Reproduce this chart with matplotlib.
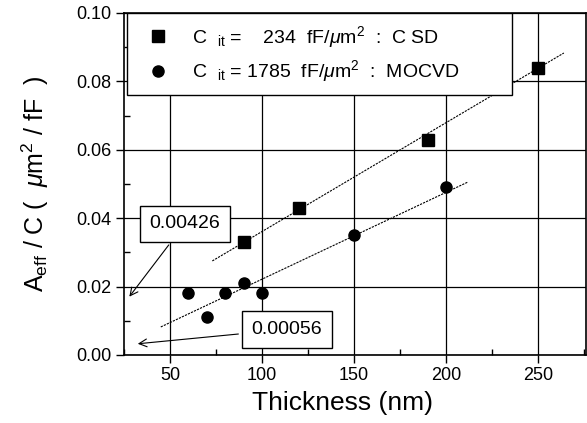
import matplotlib
matplotlib.use('Agg')
import matplotlib.pyplot as plt
from matplotlib.ticker import MultipleLocator, FormatStrFormatter
from matplotlib.patches import Rectangle

plt.rcParams['font.family'] = ['Liberation Sans', 'DejaVu Sans']
plt.rcParams['mathtext.fontset'] = 'custom'
plt.rcParams['mathtext.rm'] = 'Liberation Sans'
plt.rcParams['mathtext.it'] = 'Liberation Sans:italic'

# 数据
csd_x = [90, 120, 190, 250]
csd_y = [0.033, 0.043, 0.063, 0.084]
mocvd_x = [60, 70, 80, 90, 100, 150, 200]
mocvd_y = [0.018, 0.011, 0.018, 0.021, 0.018, 0.035, 0.049]

# 拟合线端点
csd_fit_x = [73, 264]
csd_fit_y = [0.0275, 0.0883]
mocvd_fit_x = [45, 212]
mocvd_fit_y = [0.0082, 0.0506]

csd_label = r'C  $_{\rm it}$ =    234  fF/$\mathit{\mu}$m$^2$  :  C SD'
mocvd_label = r'C  $_{\rm it}$ = 1785  fF/$\mathit{\mu}$m$^2$  :  MOCVD'

fig = plt.figure(figsize=(5.87, 4.23), dpi=100)
ax = fig.add_axes([0.2112, 0.1608, 0.7870, 0.8085])

ax.plot(csd_fit_x, csd_fit_y, color='black', lw=0.8, ls=(0, (2, 1)))
ax.plot(mocvd_fit_x, mocvd_fit_y, color='black', lw=0.8, ls=(0, (2, 1)))
ax.plot(csd_x, csd_y, 's', color='black', ms=8.5, label=csd_label, zorder=4)
ax.plot(mocvd_x, mocvd_y, 'o', color='black', ms=8, label=mocvd_label, zorder=4)

ax.set_xlim(25, 276)
ax.set_ylim(0, 0.10)
ax.xaxis.set_major_locator(MultipleLocator(50))
ax.xaxis.set_minor_locator(MultipleLocator(25))
ax.yaxis.set_major_locator(MultipleLocator(0.02))
ax.yaxis.set_minor_locator(MultipleLocator(0.01))
ax.yaxis.set_major_formatter(FormatStrFormatter('%.2f'))
ax.grid(True, which='major', color='black', lw=0.9)
ax.set_axisbelow(True)
ax.tick_params(which='major', direction='out', length=6, width=1, labelsize=13, pad=3)
ax.tick_params(which='minor', direction='in', length=4, width=1)
for sp in ax.spines.values():
    sp.set_linewidth(1.2)

ax.set_xlabel('Thickness (nm)', fontsize=19)
ax.xaxis.set_label_coords(0.474, -0.105)
ax.set_ylabel(r'A$_{\rm eff}$ / C (  $\mathit{\mu}$m$^2$ / fF  )', fontsize=18, labelpad=18)

# 图例框
ax.add_patch(Rectangle((0.0065, 0.760), 0.834, 0.24, transform=ax.transAxes,
                       fc='white', ec='black', lw=1.0, zorder=3))
leg = ax.legend(loc='upper left', bbox_to_anchor=(0.028, 1.0), borderaxespad=0,
                fontsize=14, frameon=False, borderpad=0.55, labelspacing=0.45,
                handletextpad=1.2, handlelength=1.1)
leg.set_zorder(5)

box = dict(boxstyle='square,pad=0.5', fc='white', ec='black', lw=1.0)
ax.annotate('0.00426', xy=(27, 0.0164), xytext=(58, 0.0383), fontsize=14,
            ha='center', va='center', bbox=box,
            arrowprops=dict(arrowstyle='->', lw=0.8, color='black'))
ax.annotate('0.00056', xy=(31, 0.0032), xytext=(113.4, 0.0075), fontsize=14,
            ha='center', va='center', bbox=box,
            arrowprops=dict(arrowstyle='->', lw=0.8, color='black'))

fig.savefig('out.png', dpi=100)
plt.close(fig)
